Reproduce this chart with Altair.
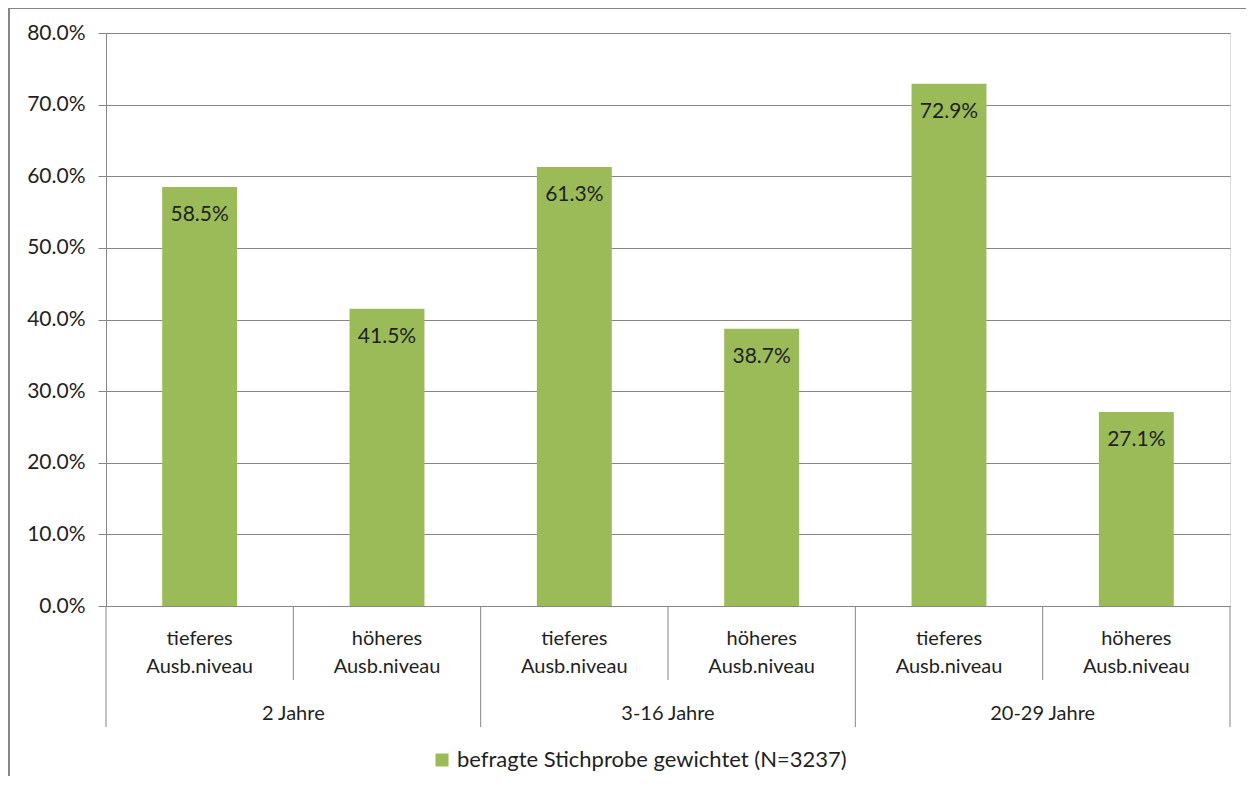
import altair as alt
import pandas as pd

# ---- data ----
groups = ["2 Jahre", "3-16 Jahre", "20-29 Jahre"]
levels = ["tieferes\nAusb.niveau", "höheres\nAusb.niveau"]
values = [0.585, 0.415, 0.613, 0.387, 0.729, 0.271]
series_name = "befragte Stichprobe gewichtet (N=3237)"
y_ticks = [0.0, 0.1, 0.2, 0.3, 0.4, 0.5, 0.6, 0.7, 0.8]

GREEN = "#9BBB59"
GRAY = "#868686"
TXT = "#1f1f1f"
FONT = "Lato"

W, H = 1124, 573

rows = []
for gi, g in enumerate(groups):
    for li, lv in enumerate(levels):
        idx = gi * len(levels) + li
        rows.append({"group": g, "level": lv, "value": values[idx],
                     "x0": idx + 0.3, "x1": idx + 0.7, "xc": idx + 0.5,
                     "series": series_name})
df = pd.DataFrame(rows)

n = len(values)
div = pd.DataFrame({"pos": list(range(n + 1)),
                    "long": [i % len(levels) == 0 for i in range(n + 1)]})
grp = pd.DataFrame({"group": groups,
                    "xc": [gi * len(levels) + len(levels) / 2 for gi in range(len(groups))]})

xs = alt.Scale(domain=[0, n], nice=False, zero=False)
ys = alt.Scale(domain=[0, 0.8], nice=False)

base = alt.Chart(df)

bars = base.mark_bar(color=GREEN).encode(
    x=alt.X("x0:Q", scale=xs, axis=None),
    x2="x1:Q",
    y=alt.Y("value:Q", scale=ys,
            axis=alt.Axis(values=y_ticks, format=".1%", title=None, grid=True,
                          gridColor=GRAY, domainColor=GRAY, tickColor=GRAY,
                          tickSize=8, labelFontSize=21, labelPadding=13,
                          labelColor=TXT, labelFont=FONT)),
    y2=alt.datum(0),
    color=alt.Color("series:N", scale=alt.Scale(range=[GREEN]),
                    legend=alt.Legend(orient="none", legendX=325, legendY=716,
                                      title=None, symbolType="square",
                                      symbolSize=169, symbolStrokeWidth=0,
                                      labelFontSize=22, labelFont=FONT,
                                      labelColor=TXT, labelLimit=700,
                                      labelOffset=4)),
)

vals = base.mark_text(fontSize=21, font=FONT, color=TXT, baseline="alphabetic", dy=34).encode(
    x=alt.X("xc:Q", scale=xs),
    y=alt.Y("value:Q", scale=ys),
    text=alt.Text("value:Q", format=".1%"),
)

short_div = alt.Chart(div).transform_filter("!datum.long").mark_rule(color=GRAY, strokeWidth=1).encode(
    x=alt.X("pos:Q", scale=xs), y=alt.value(H), y2=alt.value(H + 74))
long_div = alt.Chart(div).transform_filter("datum.long").mark_rule(color=GRAY, strokeWidth=1).encode(
    x=alt.X("pos:Q", scale=xs), y=alt.value(H), y2=alt.value(H + 121))

sub_text = base.mark_text(fontSize=20, font=FONT, color=TXT, lineBreak="\n",
                          lineHeight=28, baseline="alphabetic").encode(
    x=alt.X("xc:Q", scale=xs), y=alt.value(H + 39), text="level:N")

grp_text = alt.Chart(grp).mark_text(fontSize=20, font=FONT, color=TXT, baseline="alphabetic").encode(
    x=alt.X("xc:Q", scale=xs), y=alt.value(H + 114), text="group:N")

frame_left = alt.Chart(grp).mark_rule(color=GRAY, strokeWidth=2).encode(
    x=alt.value(-97), y=alt.value(-25), y2=alt.value(H + 200))
frame_top = alt.Chart(grp).mark_rule(color=GRAY, strokeWidth=2).encode(
    y=alt.value(-25), x=alt.value(-97), x2=alt.value(W + 200))

chart = alt.layer(bars, vals, short_div, long_div, sub_text, grp_text, frame_left, frame_top).properties(
    width=W, height=H,
    autosize=alt.AutoSizeParams(type="none"),
    padding={"left": 98, "top": 25, "right": 16, "bottom": 170},
).configure_view(stroke=None).configure(font=FONT)

chart.save("out.html", embed_options={"renderer": "svg", "actions": False})
